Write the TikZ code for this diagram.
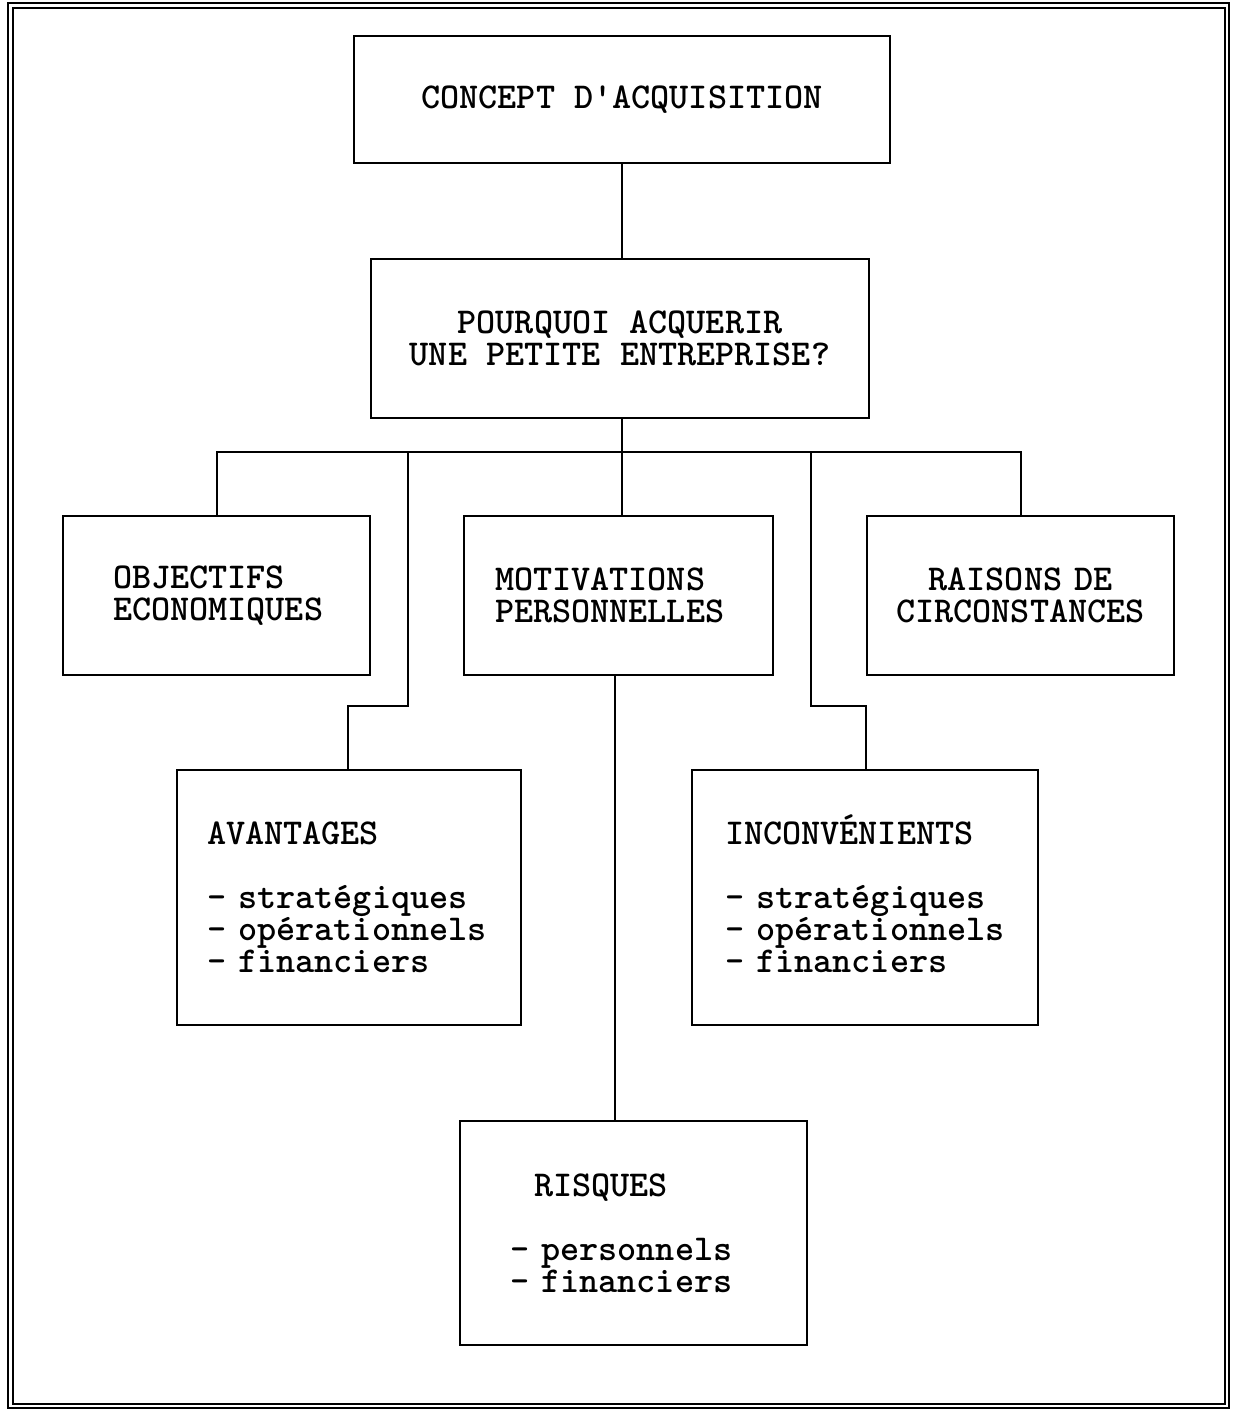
\documentclass[tikz,border=0pt]{standalone}
\begin{document}
\begin{tikzpicture}[x=1pt,y=-1pt,
  box/.style={draw,line width=2.2pt,inner ysep=0pt,font=\fontsize{36.4}{32}\selectfont\ttfamily\bfseries},
  conn/.style={line width=2pt}]
\useasboundingbox (0,0) rectangle (1234,1412);
% frame
\draw[line width=2.4pt] (8,3) rectangle (1229,1408);
\draw[line width=2pt] (13,8) rectangle (1225,1404);
% boxes
\node[box,minimum width=536pt,minimum height=127pt,align=center] (b1) at (622,99.5) {CONCEPT D\textquotesingle ACQUISITION};
\node[box,minimum width=498pt,minimum height=159pt,align=center] (b2) at (620,338.5) {POURQUOI ACQUERIR\\UNE PETITE ENTREPRISE?};
\node[box,minimum height=159pt,inner xsep=50pt,text width=207pt,align=left] (b3) at (216.5,595.5) {OBJECTIFS\\ECONOMIQUES};
\node[box,minimum height=159pt,inner xsep=31pt,text width=247pt,align=left] (b4) at (618.5,595.5) {MOTIVATIONS\\PERSONNELLES};
\node[box,minimum height=159pt,inner xsep=15pt,text width=277pt,align=center] (b5) at (1020.5,595.5) {RAISONS DE\\CIRCONSTANCES};
\node[box,minimum height=255pt,inner xsep=30pt,text width=284pt,align=left] (b6) at (349,897.5) {AVANTAGES\\[32pt]- stratégiques\\- opérationnels\\- financiers};
\node[box,minimum height=255pt,inner xsep=33pt,text width=280pt,align=left] (b7) at (865,897.5) {INCONV\smash{É}NIENTS\\[32pt]- stratégiques\\- opérationnels\\- financiers};
\node[box,minimum height=224pt,inner xsep=50pt,text width=247pt,align=left] (b8) at (633.5,1233) {\ \ RISQUES\\[32pt]- personnels\\- financiers};
% connectors
\coordinate (bus) at (622,452);
\coordinate (jL) at (408,452);
\coordinate (kL) at (348,706);
\coordinate (jR) at (811,452);
\coordinate (kR) at (866,706);
\coordinate (m1) at (615,675);
\draw[conn] (b1.south) -- (b1.south |- b2.north);
\draw[conn] (bus |- b2.south) -- (bus);
\draw[conn] (b3.north) |- (bus) -| (b5.north);
\draw[conn] (bus) -- (bus |- b4.north);
\draw[conn] (jL) |- (kL) -- (kL |- b6.north);
\draw[conn] (jR) |- (kR) -- (kR |- b7.north);
\draw[conn] (m1) -- (m1 |- b8.north);
\end{tikzpicture}
\end{document}
